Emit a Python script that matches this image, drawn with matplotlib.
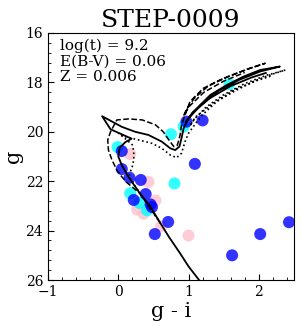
import matplotlib
matplotlib.use("Agg")
import matplotlib.pyplot as plt
from matplotlib.ticker import MultipleLocator, AutoMinorLocator

plt.rcParams['font.family'] = ['DejaVu Serif']

title = "STEP-0009"
params_text = ["log(t) = 9.2", "E(B-V) = 0.06", "Z = 0.006"]

# Stars: colour g-i and magnitude g
blue_x = [0.05, 0.05, 0.16, 0.32, 0.39, 0.22, 0.46, 0.48, 0.71, 0.52, 1.09, 1.62, 2.02, 2.43, 0.97, 1.20]
blue_y = [20.78, 21.51, 21.86, 21.95, 22.52, 22.76, 22.94, 23.05, 23.65, 24.14, 21.30, 25.00, 24.14, 23.66, 19.59, 19.54]
cyan_x = [-0.01, 0.75, 0.80, 0.17, 0.30, 0.41, 1.58, 0.93]
cyan_y = [20.62, 20.10, 22.09, 22.49, 22.88, 23.18, 18.07, 19.79]
pink_x = [0.17, 0.43, 0.53, 0.27, 0.36, 0.61, 1.00]
pink_y = [20.90, 22.03, 22.78, 23.15, 23.32, 23.82, 24.20]

# Isochrones (traced)
iso_solid_x = [1.15, 1.00, 0.88, 0.72, 0.60, 0.45, 0.31, 0.15, 0.05, 0.00, 0.02, 0.10, 0.19,
               -0.11, -0.23, 0.05, 0.24, 0.43, 0.62, 0.74, 0.81, 0.87, 0.90, 0.93,
               1.00, 1.07, 1.31, 1.55, 1.78, 2.02, 2.30,
               2.02, 1.72, 1.42, 1.18, 1.02, 0.96, 1.05, 1.30, 1.60, 1.90, 2.10]
iso_solid_y = [26.0, 25.45, 24.92, 24.25, 23.7, 23.0, 22.5, 21.85, 21.35, 21.0, 20.65, 20.42, 20.28,
               19.90, 19.37, 19.80, 20.0, 20.13, 20.40, 20.67, 20.74, 20.60, 20.26, 19.86,
               19.45, 19.19, 18.51, 18.10, 17.77, 17.50, 17.36,
               17.56, 17.90, 18.35, 18.90, 19.40, 19.62, 19.25, 18.65, 18.15, 17.80, 17.62]
iso_dash_x = [0.60, 0.31, 0.12, 0.05, -0.02, -0.09, -0.14, -0.15, -0.11, -0.02,
              0.15, 0.34, 0.53, 0.64, 0.72, 0.79, 0.84, 0.88, 0.90,
              1.02, 1.21, 1.45, 1.69, 1.88, 2.09,
              1.85, 1.55, 1.28, 1.08, 0.97, 0.93, 1.00, 1.22, 1.50, 1.80]
iso_dash_y = [23.7, 22.5, 22.05, 21.82, 21.55, 21.14, 20.74, 20.33, 20.00, 19.52,
              19.48, 19.52, 19.72, 20.0, 20.33, 20.60, 20.55, 20.13, 19.72,
              18.78, 18.24, 17.90, 17.63, 17.43, 17.23,
              17.45, 17.78, 18.15, 18.65, 19.10, 19.35, 19.00, 18.40, 17.95, 17.60]
iso_dot_x = [0.60, 0.31, 0.15, 0.20, 0.22, 0.22, 0.20, 0.12, 0.00, 0.10, 0.29,
             0.48, 0.62, 0.74, 0.83, 0.90, 0.95, 1.00, 1.17, 1.40, 1.64, 1.92,
             2.16, 2.38,
             2.10, 1.80, 1.50, 1.25, 1.08, 1.02, 1.10, 1.35, 1.65, 1.95, 2.20]
iso_dot_y = [23.7, 22.5, 21.8, 21.4, 21.14, 20.80, 20.53, 20.33, 20.05, 20.20, 20.33,
             20.47, 20.67, 20.94, 21.05, 20.87, 20.40, 20.06, 19.39, 18.78, 18.38, 17.97,
             17.70, 17.50,
             17.72, 18.05, 18.50, 19.00, 19.50, 19.75, 19.40, 18.85, 18.30, 17.95, 17.72]

xticks = [-1, 0, 1, 2]
yticks = [16, 18, 20, 22, 24, 26]

fig = plt.figure(figsize=(3.01, 3.26), dpi=100)
ax = fig.add_axes([0.1595, 0.141, 0.817, 0.758])

ms = 75
ax.scatter(pink_x, pink_y, s=ms, color='pink', alpha=0.8, edgecolors='none', zorder=2)
ax.scatter(cyan_x, cyan_y, s=ms, color='cyan', alpha=0.8, edgecolors='none', zorder=3)
ax.scatter(blue_x, blue_y, s=ms, color='blue', alpha=0.8, edgecolors='none', zorder=4)

ax.plot(iso_solid_x, iso_solid_y, color='black', lw=1.3, ls='-', zorder=5)
ax.plot(iso_dash_x, iso_dash_y, color='black', lw=1.1, ls='--', zorder=5)
ax.plot(iso_dot_x, iso_dot_y, color='black', lw=1.2, ls=':', zorder=5)

ax.set_xlim(-1, 2.5)
ax.set_ylim(26, 16)
ax.set_xticks(xticks)
ax.set_yticks(yticks)
ax.xaxis.set_minor_locator(AutoMinorLocator(5))
ax.yaxis.set_minor_locator(AutoMinorLocator(5))
ax.tick_params(which='both', direction='in', top=False, right=False, labelsize=10)
ax.tick_params(which='major', length=4)
ax.tick_params(which='minor', length=2)
ax.set_xticklabels(['\u22121', '0', '1', '2'])

ax.set_xlabel('g - i', fontsize=15, labelpad=2)
ax.set_ylabel('g', fontsize=15, labelpad=2)
ax.set_title(title, fontsize=18, pad=4)

ax.text(0.05, 0.975, "\n".join(params_text), transform=ax.transAxes,
        fontsize=11, va='top', ha='left', linespacing=1.1)

fig.savefig('out.png', dpi=100)
